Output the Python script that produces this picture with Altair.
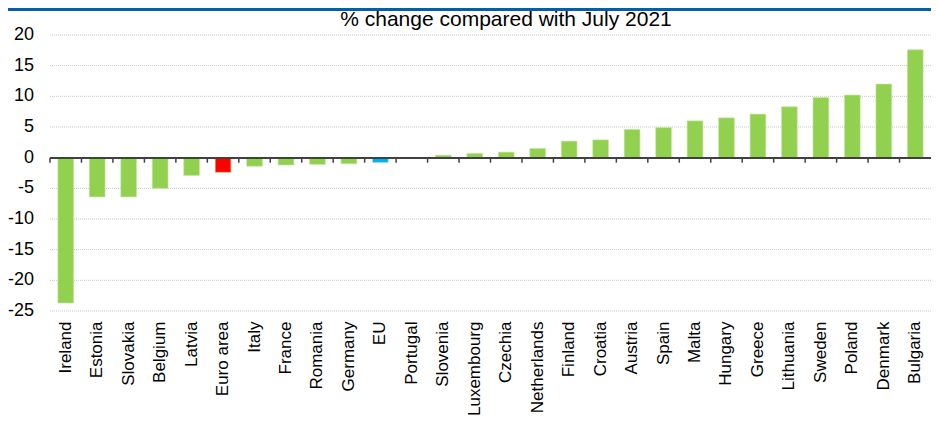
import altair as alt
import pandas as pd

countries = ["Ireland", "Estonia", "Slovakia", "Belgium", "Latvia", "Euro area", "Italy",
             "France", "Romania", "Germany", "EU", "Portugal", "Slovenia", "Luxembourg",
             "Czechia", "Netherlands", "Finland", "Croatia", "Austria", "Spain", "Malta",
             "Hungary", "Greece", "Lithuania", "Sweden", "Poland", "Denmark", "Bulgaria"]
values = [-23.7, -6.4, -6.4, -5.0, -2.9, -2.4, -1.4,
          -1.2, -1.1, -1.0, -0.8, 0.05, 0.4, 0.7,
          0.9, 1.5, 2.7, 2.9, 4.6, 4.9, 6.0,
          6.5, 7.1, 8.3, 9.8, 10.2, 12.0, 17.6]
y_ticks = [-25, -20, -15, -10, -5, 0, 5, 10, 15, 20]
title_text = "% change compared with July 2021"

kinds = ["Euro area" if c == "Euro area" else ("EU" if c == "EU" else "Country") for c in countries]
df = pd.DataFrame({"country": countries, "value": values, "kind": kinds})
tick_df = pd.DataFrame({"tick": y_ticks, "label": [str(t) for t in y_ticks]})

FONT = "Liberation Sans"
W, H = 881, 276

xscale = alt.Scale(paddingInner=0, paddingOuter=0)
yscale = alt.Scale(domain=[-25, 20], nice=False)

base = alt.Chart(df)

grid = alt.Chart(tick_df).mark_rule(color="#c8c8c8", strokeDash=[1, 1], strokeWidth=1).encode(
    y=alt.Y("tick:Q", scale=yscale, axis=None, title=None)
)

ylabels = alt.Chart(tick_df).mark_text(
    font=FONT, fontSize=18, color="black", align="right", baseline="middle"
).encode(
    y=alt.Y("tick:Q", scale=yscale, axis=None, title=None),
    x=alt.value(-16),
    text="label:N",
)

bars = base.mark_bar(width=alt.RelativeBandSize(0.5), stroke="#c4e8a0", strokeWidth=0.6).encode(
    x=alt.X("country:N", sort=countries, scale=xscale, title=None,
            axis=alt.Axis(labelAngle=270, labelAlign="right", labelBaseline="middle",
                          labelPadding=10, labelFontSize=17, labelFont=FONT,
                          labelColor="black", ticks=False, domain=False, grid=False,
                          labelOverlap=False)),
    y=alt.Y("value:Q", scale=yscale, axis=None, title=None),
    color=alt.Color("kind:N", legend=None,
                    scale=alt.Scale(domain=["Country", "Euro area", "EU"],
                                    range=["#92D050", "#FF0000", "#00B0F0"])),
)

zero = base.mark_rule(color="#404040", strokeWidth=1.5).encode(
    y=alt.YDatum(0, scale=yscale, axis=None)
)

ticks = base.mark_rule(color="#404040", strokeWidth=1.5).encode(
    x=alt.X("country:N", sort=countries, scale=xscale, bandPosition=0, title=None),
    y=alt.YDatum(0, scale=yscale, axis=None),
    y2=alt.datum(-0.82),
)

topband = base.mark_rule(color="#0a5ca8", strokeWidth=2.5).encode(
    x=alt.value(-42), x2=alt.value(W), y=alt.value(-26)
)

title = alt.Chart(pd.DataFrame({"t": [title_text]})).mark_text(
    font=FONT, fontSize=21, color="black", align="center", baseline="alphabetic"
).encode(text="t:N", x=alt.value(456), y=alt.value(-9))

chart = alt.layer(grid, ylabels, bars, zero, ticks, topband, title).properties(
    width=W, height=H,
    autosize=alt.AutoSizeParams(type="none"),
    padding={"left": 42, "top": 27, "right": 0, "bottom": 106},
).configure_view(stroke=None)

chart.save("out.html", embed_options={"renderer": "svg", "actions": False})
